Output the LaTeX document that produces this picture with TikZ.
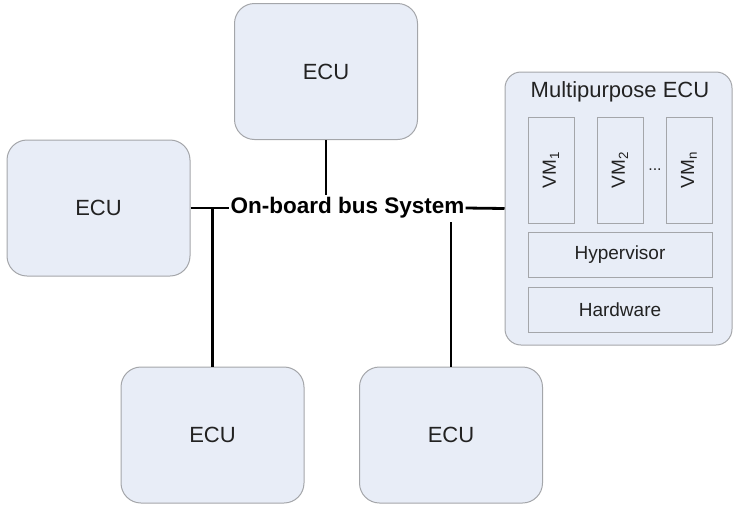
\documentclass[tikz,border=0pt]{standalone}
\usepackage{fontspec}
\setmainfont{Liberation Sans}
\definecolor{boxfill}{HTML}{E8EDF7}
\definecolor{boxline}{HTML}{A4A6AA}
\definecolor{txt}{HTML}{222222}
\begin{document}
\begin{tikzpicture}[x=1pt,y=-1pt,
  ecu/.style={draw=boxline,fill=boxfill,line width=1pt,rounded corners=20pt,
    minimum width=183pt,minimum height=136pt,inner sep=0pt,
    font=\fontsize{22}{26}\selectfont,text=txt},
  multi/.style={draw=boxline,fill=boxfill,line width=1pt,rounded corners=16pt,
    minimum width=227pt,minimum height=273pt,inner sep=0pt},
  inbox/.style={draw=boxline,fill=boxfill,line width=1pt,inner sep=0pt,
    font=\fontsize{19}{22}\selectfont,text=txt},
  vmbox/.style={inbox,minimum width=46pt,minimum height=106pt},
  layerbox/.style={inbox,minimum width=184pt,minimum height=45pt},
  bus/.style={line width=2.8pt,black}]
\useasboundingbox (0,0) rectangle (734,504);
% ECUs
\node[ecu] (top) at (326,71.5) {ECU};
\node[ecu] (left) at (98.5,208) {ECU};
\node[ecu] (bl) at (212.5,435) {ECU};
\node[ecu] (br) at (451,435) {ECU};
% Multipurpose ECU
\node[multi] (multi) at (618.5,208.5) {};
\node[font=\fontsize{22}{26}\selectfont,text=txt] (title) at (620,92) {Multipurpose ECU};
\node[vmbox] (vm1) at (551,170) {};
\node[vmbox] (vm2) at (620,170) {};
\node[vmbox] (vmn) at (689,170) {};
\node[rotate=90,font=\fontsize{19}{22}\selectfont,text=txt] (vm1t) at (vm1) {VM\textsubscript{1}};
\node[rotate=90,font=\fontsize{19}{22}\selectfont,text=txt] (vm2t) at (vm2) {VM\textsubscript{2}};
\node[rotate=90,font=\fontsize{19}{22}\selectfont,text=txt] (vmnt) at (vmn) {VM\textsubscript{n}};
\node[font=\fontsize{16}{18}\selectfont,text=txt] (dots) at (655,170) {...};
\node[layerbox] (hyp) at (620,254.5) {Hypervisor};
\node[layerbox] (hw) at (620,309.5) {Hardware};
% Bus
\node[font=\bfseries\fontsize{22.5}{26}\selectfont,inner sep=0pt] (bustxt) at (347.5,208) {On-board bus System};
\coordinate (topend) at (326,195);
\coordinate (tjl) at (212.5,208);
\coordinate (rstart) at (451,222);
\draw[bus] (left.east) -- ([xshift=-1pt]bustxt.west);
\draw[bus] ([xshift=1pt]bustxt.east) -- (multi.west);
\draw[bus] (top.south) -- (topend);
\draw[bus] (tjl) -- (bl.north);
\draw[bus] (rstart) -- (br.north);
\end{tikzpicture}
\end{document}
